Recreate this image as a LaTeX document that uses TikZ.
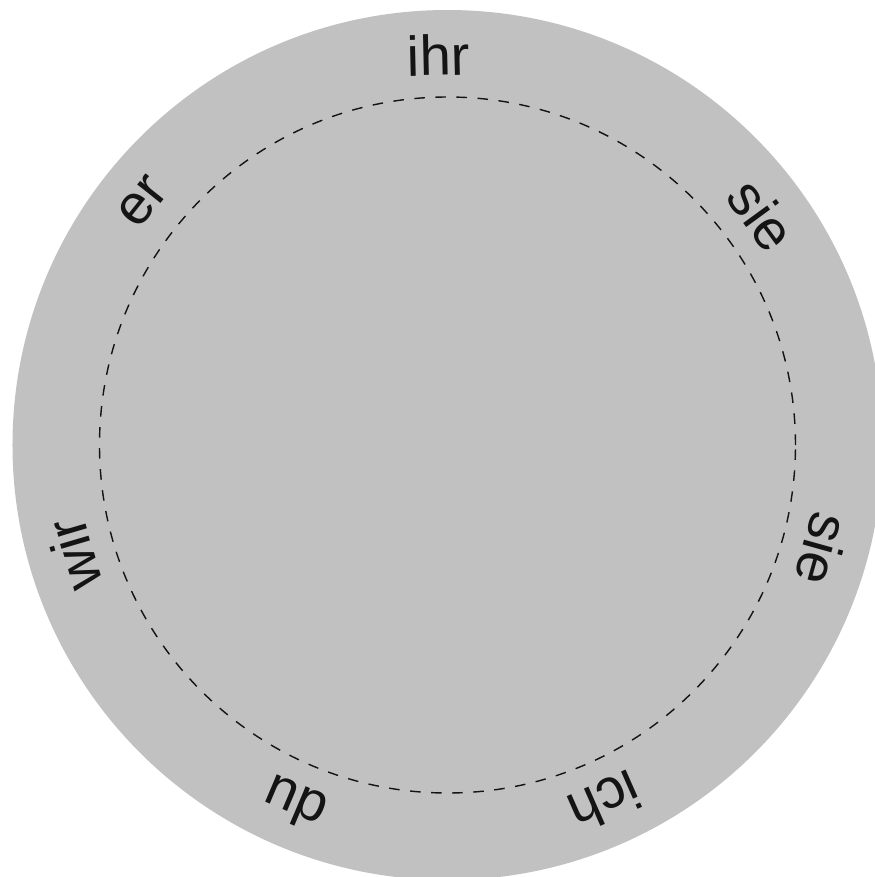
\documentclass[tikz,border=0pt]{standalone}
\usepackage{fontspec}
\setmainfont{Liberation Sans}
\usepackage{tikz}
\definecolor{discgray}{RGB}{193,193,193}
\definecolor{darktext}{RGB}{20,20,20}

\begin{document}
\begin{tikzpicture}
	\useasboundingbox (-4.475,-4.32) rectangle (4.275,4.45);
	\fill[discgray] (0,0) circle (4.35cm);
	\draw[darktext, dashed] (0,0) circle (3.48cm);
	\foreach \a/\w [count=\i] in {91.3/ihr, 36.2/sie, -15.6/sie, -66.2/ich, -113/du, -163.6/wir, 141.4/er} {
		\node[text=darktext, font=\fontsize{16}{19}\selectfont, rotate=\a-90] (pron\i) at (\a:3.9cm) {\w};
	}
\end{tikzpicture}
\end{document}
